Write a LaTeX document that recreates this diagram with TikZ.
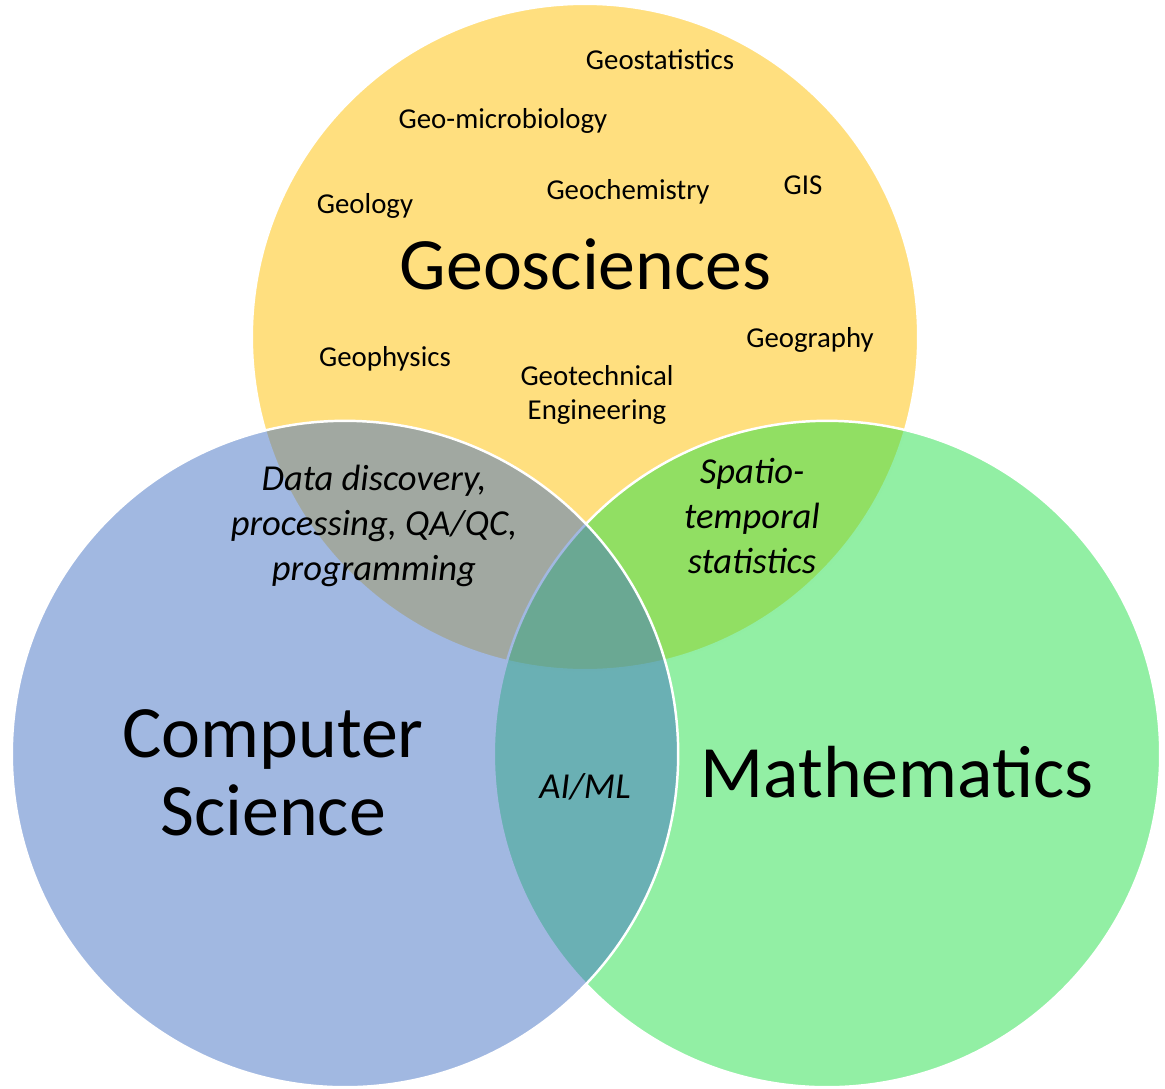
\documentclass[tikz,border=0pt]{standalone}
\usepackage{fontspec}
\setmainfont{Carlito}
\definecolor{geoc}{RGB}{255,192,0}
\definecolor{csc}{RGB}{68,114,196}
\definecolor{mathc}{RGB}{37,223,73}
\tikzset{
  venn/.style={draw=white, line width=0.7pt, fill opacity=0.5, draw opacity=1},
  small/.style={anchor=base, inner sep=0pt, font=\fontsize{8.2}{9.6}\selectfont, align=center},
  ital/.style={anchor=base, inner sep=0pt, font=\fontsize{10.4}{12.75}\selectfont\itshape, align=center},
  title/.style={anchor=base, inner sep=0pt, font=\fontsize{21}{22.1}\selectfont, align=center}
}
\begin{document}
\begin{tikzpicture}[x=0.01cm, y=-0.01cm]
\useasboundingbox (0,0) rectangle (1165,1088);
% circles: Geosciences (bottom), Mathematics, Computer Science (top)
\coordinate (cg) at (585,337);
\coordinate (cm) at (827,754);
\coordinate (cc) at (345,754);
\path[venn, fill=geoc] (cg) circle[radius=3.33cm];
\path[venn, fill=mathc] (cm) circle[radius=3.33cm];
\path[venn, fill=csc] (cc) circle[radius=3.33cm];
% Geosciences labels
\node[small] (gstat) at (660,70) {Geostatistics};
\node[small] (gmic) at (503,128) {Geo-microbiology};
\node[small] (geol) at (365,213) {Geology};
\node[small] (gchem) at (628,199) {Geochemistry};
\node[small] (gis) at (803,194) {GIS};
\node[title] (geo) at (585.5,289) {Geosciences};
\node[small] (gphys) at (385,366) {Geophysics};
\node[small] (gtech) at (597,419) {Geotechnical\\Engineering};
\node[small] (ggeog) at (810,347) {Geography};
% overlap labels
\node[ital] (data) at (374,580) {Data discovery,\\processing, QA/QC,\\programming};
\node[ital] (spat) at (752,573) {Spatio-\\temporal\\statistics};
\node[ital] (aiml) at (585,798) {AI/ML};
% titles
\node[title] (cs) at (273,835) {Computer\\Science};
\node[title] (math) at (897,797) {Mathematics};
\end{tikzpicture}
\end{document}
